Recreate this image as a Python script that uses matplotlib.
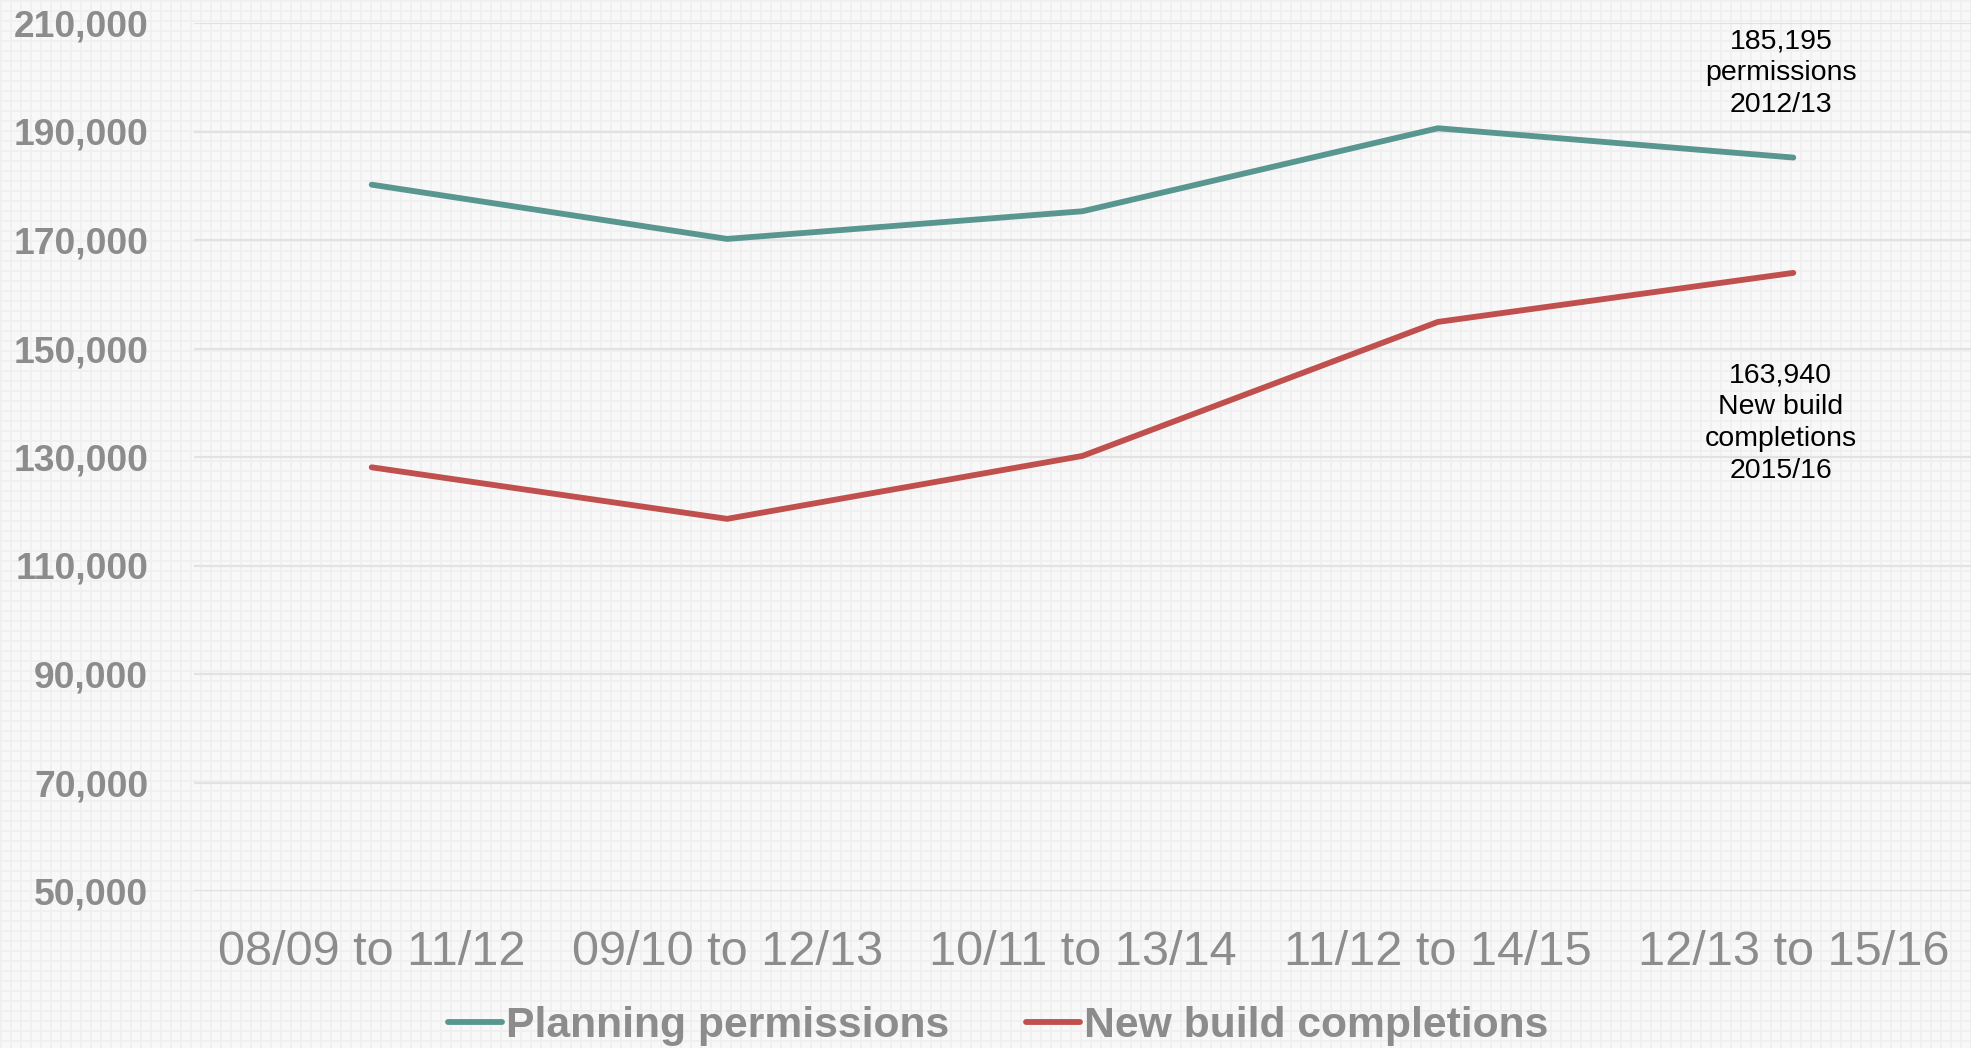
import numpy as np
import matplotlib
matplotlib.use("Agg")
import matplotlib.pyplot as plt
from matplotlib.ticker import FuncFormatter

periods = ["08/09 to 11/12", "09/10 to 12/13", "10/11 to 13/14",
           "11/12 to 14/15", "12/13 to 15/16"]
permissions = [180200, 170200, 175300, 190600, 185195]
completions = [128100, 118600, 130200, 154900, 163940]

W, H = 1971, 1048
plt.rcParams['font.family'] = ['Liberation Sans', 'DejaVu Sans']

fig = plt.figure(figsize=(W / 100, H / 100), dpi=100)

# graph paper background, drawn in its own axes behind everything
bg = np.full((H, W), 0.972)
for i in range(0, H, 10):
    bg[i:i + 2, :] = 0.94
for j in range(0, W, 10):
    bg[:, j:j + 2] = 0.94
bgax = fig.add_axes([0, 0, 1, 1], zorder=0)
bgax.imshow(bg, cmap='gray', vmin=0, vmax=1, aspect='auto',
            interpolation='nearest')
bgax.axis('off')

ax = fig.add_axes([194 / W, 1 - 891 / H, (W - 194) / W, (891 - 23) / H],
                  zorder=1)
ax.patch.set_alpha(0)
x = np.arange(len(periods))
ax.plot(x, permissions, color='#5a9690', lw=4.2, solid_capstyle='round',
        label='Planning permissions', zorder=3)
ax.plot(x, completions, color='#c0504d', lw=4.2, solid_capstyle='round',
        label='New build completions', zorder=3)

ax.set_xlim(-0.5, len(periods) - 0.5)
ax.set_ylim(50000, 210000)
ax.set_yticks(np.arange(50000, 210001, 20000))
ax.yaxis.set_major_formatter(FuncFormatter(lambda v, p: f"{int(v):,}"))
ax.set_xticks(x)
ax.set_xticklabels(periods)
ax.tick_params(axis='y', length=0, pad=33, labelsize=26.8, labelcolor='#8c8c8c')
ax.tick_params(axis='x', length=0, pad=28, labelsize=35, labelcolor='#8c8c8c')
for t in ax.get_yticklabels():
    t.set_fontweight('bold')
ax.grid(axis='y', color='#e2e2e2', lw=1.6)
ax.set_axisbelow(True)
for s in ax.spines.values():
    s.set_visible(False)

ax.text(3.965, 185195 + 15500, "185,195\npermissions\n2012/13", ha='center',
        va='center', fontsize=20.5, linespacing=1.29)
ax.text(3.965, 163940 - 27700, "163,940\nNew build\ncompletions\n2015/16",
        ha='center', va='center', fontsize=20.5, linespacing=1.29)

leg = fig.legend(loc='center', bbox_to_anchor=(0.5064, 1 - 1026 / H), ncol=2,
                 frameon=False, handlelength=1.27, handletextpad=0.1,
                 columnspacing=1.8,
                 prop={'size': 30.7, 'weight': 'bold'}, labelcolor='#8c8c8c')
leg.set_zorder(2)

fig.savefig('out.png', dpi=100)
